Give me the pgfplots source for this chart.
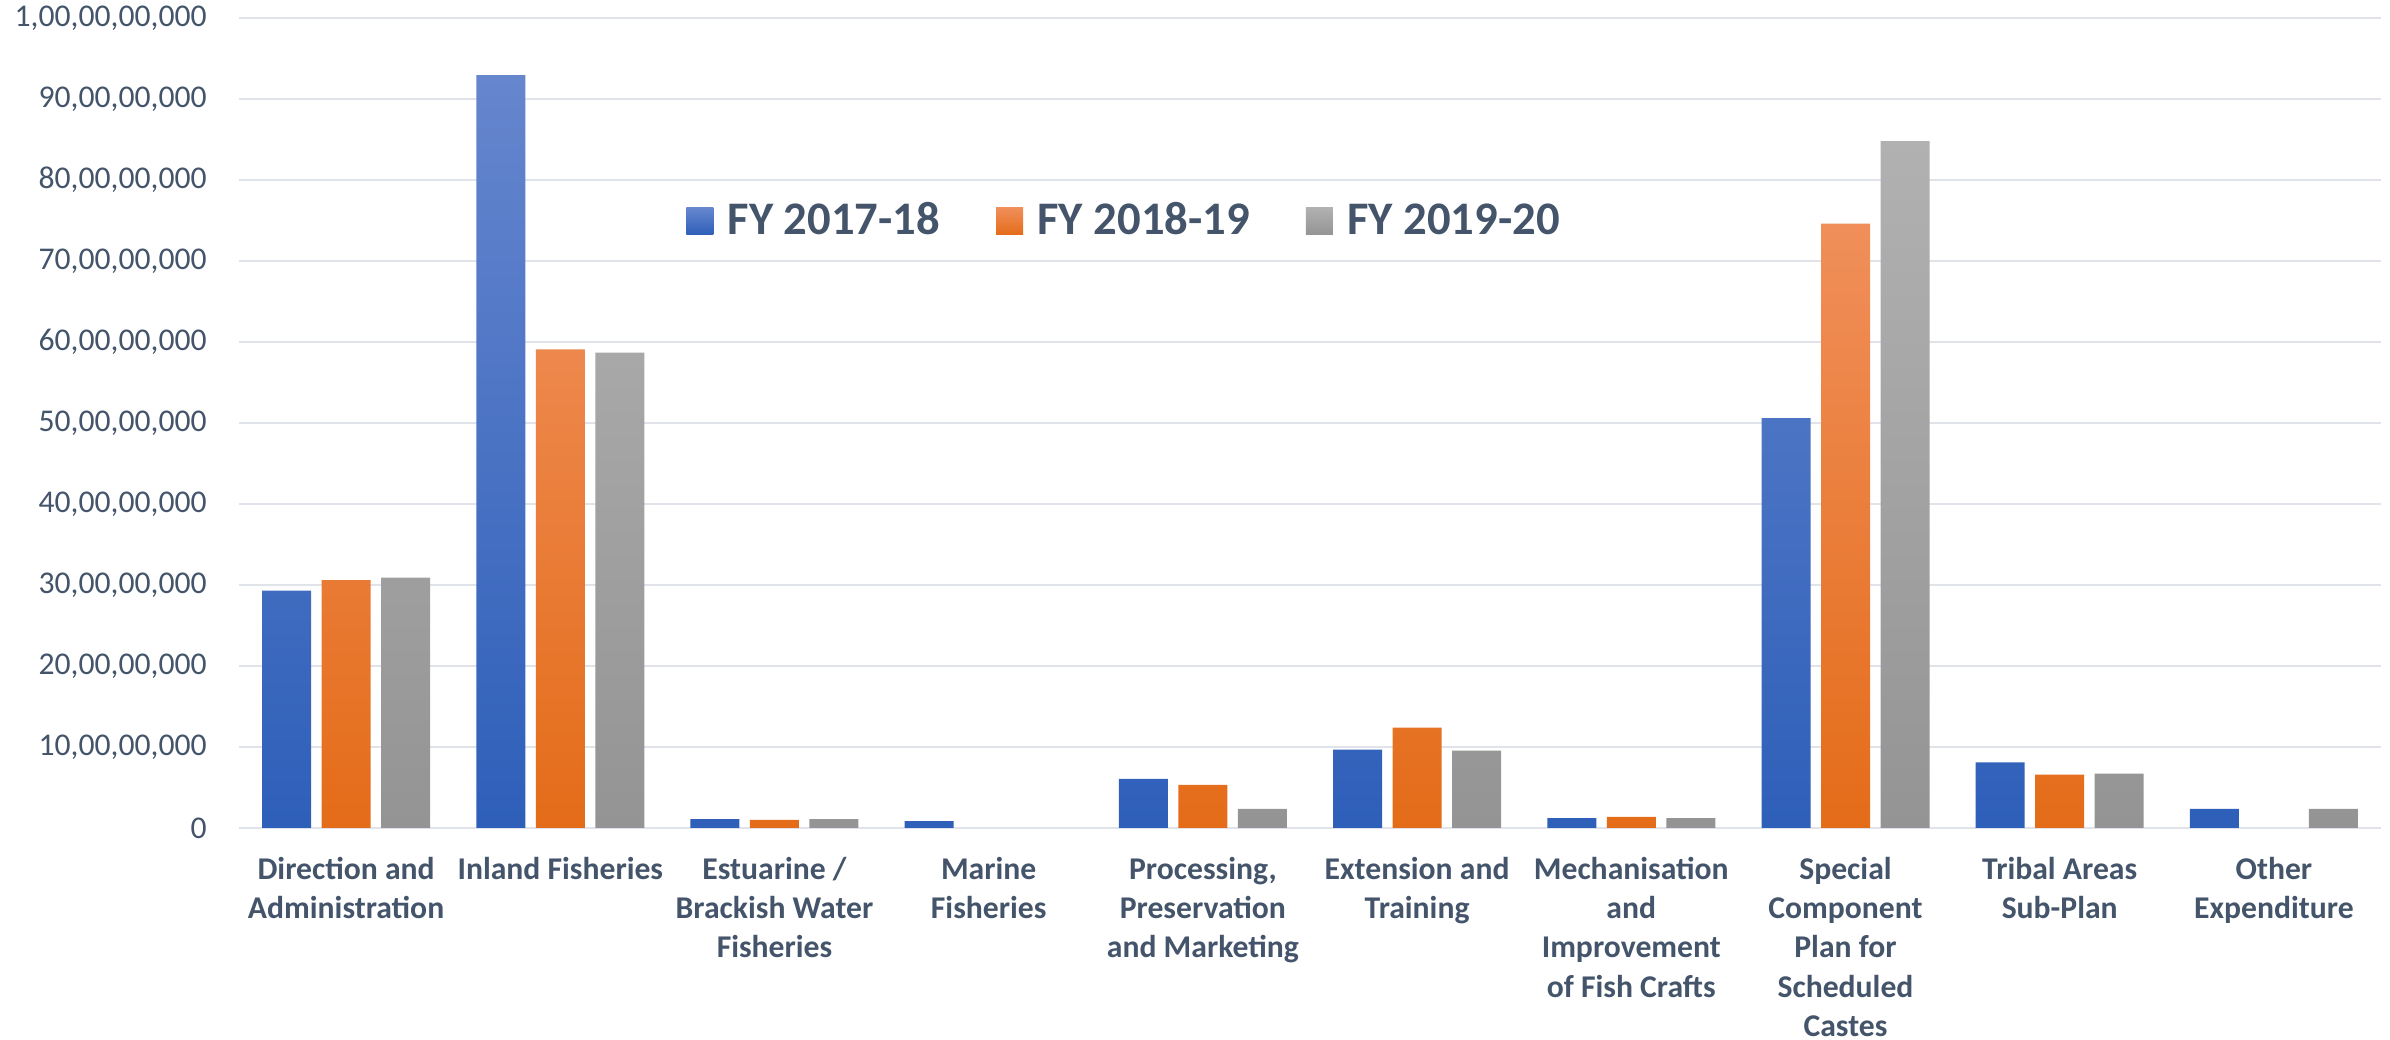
\documentclass[border=0pt]{standalone}
\usepackage{fontspec}
\setmainfont{Carlito}
\usepackage{pgfplots}
\pgfplotsset{compat=1.18}
\definecolor{txt}{HTML}{44546A}
\definecolor{gridc}{HTML}{E0E4EA}
\definecolor{bT}{HTML}{6686CE}
\definecolor{bM}{HTML}{4472C4}
\definecolor{bB}{HTML}{2E5FB9}
\definecolor{oT}{HTML}{F08F5A}
\definecolor{oM}{HTML}{F58028}
\definecolor{oB}{HTML}{E46C19}
\definecolor{gT}{HTML}{B1B1B1}
\definecolor{gM}{HTML}{A5A5A5}
\definecolor{gB}{HTML}{949494}
\begin{document}
\begin{tikzpicture}
\begin{axis}[
  scale only axis, width=642.6bp, height=243bp,
  xmin=-0.5, xmax=9.5, ymin=0, ymax=100,
  ybar=3.15bp, bar width=14.7bp,
  legend image code/.code={\path[#1,/tikz/.cd,draw=none] (0bp,-4.05bp) rectangle (8.1bp,4.05bp);},
  xtick={0,...,9},
  xticklabels={
    {Direction and\\Administration},
    {Inland Fisheries},
    {Estuarine /\\Brackish Water\\Fisheries},
    {Marine\\Fisheries},
    {Processing,\\Preservation\\and Marketing},
    {Extension and\\Training},
    {Mechanisation\\and\\Improvement\\of Fish Crafts},
    {Special\\Component\\Plan for\\Scheduled\\Castes},
    {Tribal Areas\\Sub-Plan},
    {Other\\Expenditure}},
  ytick={0,10,...,100},
  yticklabels={0,{10,00,00,000},{20,00,00,000},{30,00,00,000},{40,00,00,000},{50,00,00,000},{60,00,00,000},{70,00,00,000},{80,00,00,000},{90,00,00,000},{1,00,00,00,000}},
  ymajorgrids, grid style={draw=gridc, line width=0.8bp},
  axis line style={draw=none}, major tick length=0pt,
  yticklabel style={font=\fontsize{9.5bp}{11bp}\selectfont, text=txt, inner sep=0pt, anchor=east, xshift=-9.5bp},
  xticklabel style={font=\bfseries\fontsize{9.5bp}{11.8bp}\selectfont, text=txt, align=center, inner sep=0pt, anchor=north, yshift=-8.5bp},
  legend columns=3,
  legend style={at={(0.4127,0.749)}, anchor=center, draw=none, fill=none,
    font=\bfseries\fontsize{14bp}{16bp}\selectfont, text=txt,
    /tikz/every odd column/.append style={column sep=4.3bp},
    /tikz/every even column/.append style={column sep=16.8bp},
    nodes={inner sep=0pt}},
]
\addplot[draw=none, top color=bT, middle color=bM, bottom color=bB]
  coordinates {(0,29.3) (1,92.96) (2,1.1) (3,0.86) (4,6.07) (5,9.67) (6,1.23) (7,50.6) (8,8.1) (9,2.35)};
\addplot[draw=none, top color=oT, middle color=oM, bottom color=oB]
  coordinates {(0,30.6) (1,59.1) (2,0.99) (4,5.33) (5,12.4) (6,1.36) (7,74.6) (8,6.6)};
\addplot[draw=none, top color=gT, middle color=gM, bottom color=gB]
  coordinates {(0,30.9) (1,58.7) (2,1.1) (4,2.36) (5,9.55) (6,1.23) (7,84.8) (8,6.7) (9,2.35)};
\legend{FY 2017-18, FY 2018-19, FY 2019-20}
\end{axis}
\path (current axis.south west) ++(-71.7bp,-63.6bp) rectangle ++(717bp,312bp);
\end{tikzpicture}
\end{document}
